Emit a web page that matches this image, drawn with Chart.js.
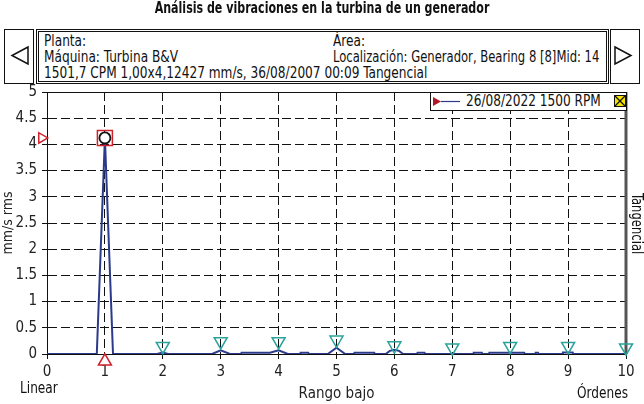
<!DOCTYPE html>
<html>
<head>
<meta charset="utf-8">
<script src="https://cdn.jsdelivr.net/npm/chart.js@4/dist/chart.umd.min.js"></script>
<style>
  body { margin: 0; width: 644px; height: 404px; position: relative; overflow: hidden; background: #fff;
         font-family: 'Liberation Sans Narrow', 'DejaVu Sans Condensed', sans-serif; color: #111; }
  #chart { position: absolute; left: 0; top: 0; }
  .txt { position: absolute; white-space: nowrap; line-height: 1; font-size: 15px; }
  .n { transform: scaleX(0.9); transform-origin: 0 0; }
  .btn { position: absolute; border: 1.5px solid #111; box-sizing: border-box; background: #fff; }
  .box { position: absolute; border: 3px double #111; box-sizing: border-box; background: #fff; }
  #legendBox { position: absolute; left: 430px; top: 92px; width: 197px; height: 19px; border: 1px solid #111;
               box-sizing: border-box; background: #fff; }
</style>
</head>
<body>
<canvas id="chart" width="644" height="404"></canvas>

<div class="txt" style="left:0;width:644px;top:1px;text-align:center;font-weight:bold;transform:scaleX(0.82);transform-origin:322px 0;">Análisis de vibraciones en la turbina de un generador</div>

<div class="btn" style="left:4px;top:29px;width:30px;height:55px;">
  <svg width="27" height="52" style="position:absolute;left:0;top:0"><polygon points="23,17 7,25.5 23,34" fill="none" stroke="#111" stroke-width="1.5"/></svg>
</div>
<div class="box" style="left:36px;top:29px;width:573px;height:55px;"></div>
<div class="btn" style="left:610px;top:29px;width:30px;height:55px;">
  <svg width="27" height="52" style="position:absolute;left:0;top:0"><polygon points="4,17 20,25.5 4,34" fill="none" stroke="#111" stroke-width="1.5"/></svg>
</div>
<div class="txt n" style="left:44px;top:34px;">Planta:</div>
<div class="txt n" style="left:44px;top:50px;">Máquina: Turbina B&amp;V</div>
<div class="txt n" style="left:44px;top:66px;">1501,7 CPM 1,00x4,12427 mm/s, 36/08/2007 00:09 Tangencial</div>
<div class="txt n" style="left:333px;top:34px;">Área:</div>
<div class="txt" style="left:333px;top:50px;transform:scaleX(0.86);transform-origin:0 0;">Localización: Generador, Bearing 8 [8]Mid: 14</div>

<div id="legendBox">
  <svg width="30" height="17" style="position:absolute;left:1px;top:0"><polygon points="1,4 9,8.5 1,13" fill="#b0182a"/><line x1="9" y1="8.5" x2="28" y2="8.5" stroke="#2b3a8a" stroke-width="1.2"/></svg>
  <div class="txt n" style="left:35px;top:1px;">26/08/2022 1500 RPM</div>
  <svg width="12" height="12" style="position:absolute;left:183px;top:2px"><rect x="0.5" y="0.5" width="11" height="11" fill="#f5e400" stroke="#111"/><line x1="1" y1="1" x2="11" y2="11" stroke="#111" stroke-width="1.3"/><line x1="11" y1="1" x2="1" y2="11" stroke="#111" stroke-width="1.3"/></svg>
</div>

<div class="txt n" style="left:20px;top:381px;">Linear</div>
<div class="txt n" style="left:577px;top:386px;">Órdenes</div>
<div class="txt" style="left:629px;top:193px;writing-mode:vertical-rl;transform:scaleY(0.86);transform-origin:0 0;">Tangencial</div>

<script>
// spectrum (orders vs mm/s rms)
const spectrumOrders = [0, 0.86, 1.0, 1.14, 1.9, 2.0, 2.09, 2.85, 3.0, 3.16, 3.35, 3.36, 3.85, 4.0, 4.16,
  4.37, 4.38, 4.51, 4.52, 4.85, 5.0, 5.15, 5.3, 5.31, 5.65, 5.66, 5.85, 5.92, 6.0, 6.08, 6.15,
  6.39, 6.4, 6.52, 6.53, 7.36, 7.37, 7.51, 7.52, 7.63, 7.64, 8.24, 8.25, 8.43, 8.44, 8.48, 8.49,
  8.9, 8.91, 9.08, 9.09, 10];
const spectrumAmps = [0, 0, 4.12, 0, 0, 0.03, 0, 0, 0.07, 0, 0, 0.025, 0.025, 0.07, 0,
  0, 0.025, 0.025, 0, 0, 0.12, 0, 0, 0.025, 0.025, 0, 0, 0.06, 0.08, 0.06, 0,
  0, 0.025, 0.025, 0, 0, 0.025, 0.025, 0, 0, 0.025, 0.025, 0, 0, 0.025, 0.025, 0,
  0, 0.03, 0.03, 0, 0];

// harmonic markers
const harmonicOrders = [2, 3, 4, 5, 6, 7, 8, 9, 10];
const harmonicAmps = [0.15, 0.24, 0.24, 0.27, 0.16, 0.12, 0.15, 0.15, 0.12];

// cursor at the 1x peak
const peakOrder = 1.0;
const peakAmp = 4.12427;

const xTicks = [0, 1, 2, 3, 4, 5, 6, 7, 8, 9, 10];
const yTicks = [0, 0.5, 1, 1.5, 2, 2.5, 3, 3.5, 4, 4.5, 5];

const FONT = "'Liberation Sans Narrow', 'DejaVu Sans Condensed', sans-serif";
const navy = '#2b3a8a';
const teal = '#2aa39b';
const red = '#d0202a';

const pts = (xs, ys) => xs.map((x, i) => ({ x: x, y: ys[i] }));

// solid top edge and the grey right edge of the plot
const frame = {
  id: 'frame',
  beforeDatasetsDraw(chart) {
    const { ctx, chartArea: a } = chart;
    ctx.save();
    ctx.strokeStyle = '#111';
    ctx.lineWidth = 1;
    ctx.beginPath();
    ctx.moveTo(a.left - 5, a.top + 0.5);
    ctx.lineTo(a.right, a.top + 0.5);
    ctx.stroke();
    ctx.strokeStyle = '#555';
    ctx.lineWidth = 3;
    ctx.beginPath();
    ctx.moveTo(a.right, a.top);
    ctx.lineTo(a.right, a.bottom);
    ctx.stroke();
    ctx.restore();
  }
};

new Chart(document.getElementById('chart'), {
  type: 'line',
  data: {
    datasets: [
      { data: [{ x: peakOrder, y: peakAmp }], showLine: false, pointStyle: 'circle', pointRadius: 5.5,
        borderColor: '#111', borderWidth: 1.8, backgroundColor: '#fff', clip: false },
      { data: [{ x: peakOrder, y: peakAmp }], showLine: false, pointStyle: 'rect', pointRadius: 10.6,
        borderColor: red, borderWidth: 1.5, backgroundColor: 'rgba(0,0,0,0)', clip: false },
      { data: [{ x: -0.09, y: peakAmp }], showLine: false, pointStyle: 'triangle', rotation: 90, pointRadius: 6,
        borderColor: red, borderWidth: 1.5, backgroundColor: '#fff', clip: false },
      { data: [{ x: peakOrder, y: -0.14 }], showLine: false, pointStyle: 'triangle', pointRadius: 7.5,
        borderColor: red, borderWidth: 1.5, backgroundColor: '#fff', clip: false },
      { data: pts(harmonicOrders, harmonicAmps), showLine: false, pointStyle: 'triangle', rotation: 180,
        pointRadius: 7.5, borderColor: teal, borderWidth: 1.5, backgroundColor: 'rgba(0,0,0,0)', clip: false },
      { data: pts(spectrumOrders, spectrumAmps), borderColor: navy, borderWidth: 2, pointRadius: 0,
        tension: 0, fill: false }
    ]
  },
  options: {
    responsive: false,
    animation: false,
    layout: { padding: { top: 92, right: 18, left: 0, bottom: 0 } },
    plugins: { legend: { display: false }, tooltip: { enabled: false } },
    scales: {
      x: {
        type: 'linear', min: 0, max: 10,
        afterBuildTicks: s => { s.ticks = xTicks.map(v => ({ value: v })); },
        afterFit: s => { s.height = 50; },
        ticks: { color: '#222', font: { family: FONT, size: 15 }, padding: 4, maxRotation: 0 },
        grid: { color: '#111', lineWidth: 1, tickLength: 5, tickColor: '#111' },
        border: { color: '#111', width: 1, dash: [9, 4] },
        title: { display: true, text: 'Rango bajo', color: '#222', font: { family: FONT, size: 15 },
                 padding: { top: 0, bottom: 1 } }
      },
      y: {
        min: 0, max: 5,
        afterBuildTicks: s => { s.ticks = yTicks.map(v => ({ value: v })); },
        afterFit: s => { s.width = 47; },
        ticks: { color: '#222', font: { family: FONT, size: 15 }, padding: 5, callback: v => String(v) },
        grid: { color: '#111', lineWidth: 1, tickLength: 5, tickColor: '#111' },
        border: { color: '#111', width: 1, dash: [9, 4] },
        title: { display: true, text: 'mm/s rms', color: '#222', font: { family: FONT, size: 14 },
                 padding: { top: 0, bottom: 0 } }
      }
    }
  },
  plugins: [frame]
});
</script>
</body>
</html>
